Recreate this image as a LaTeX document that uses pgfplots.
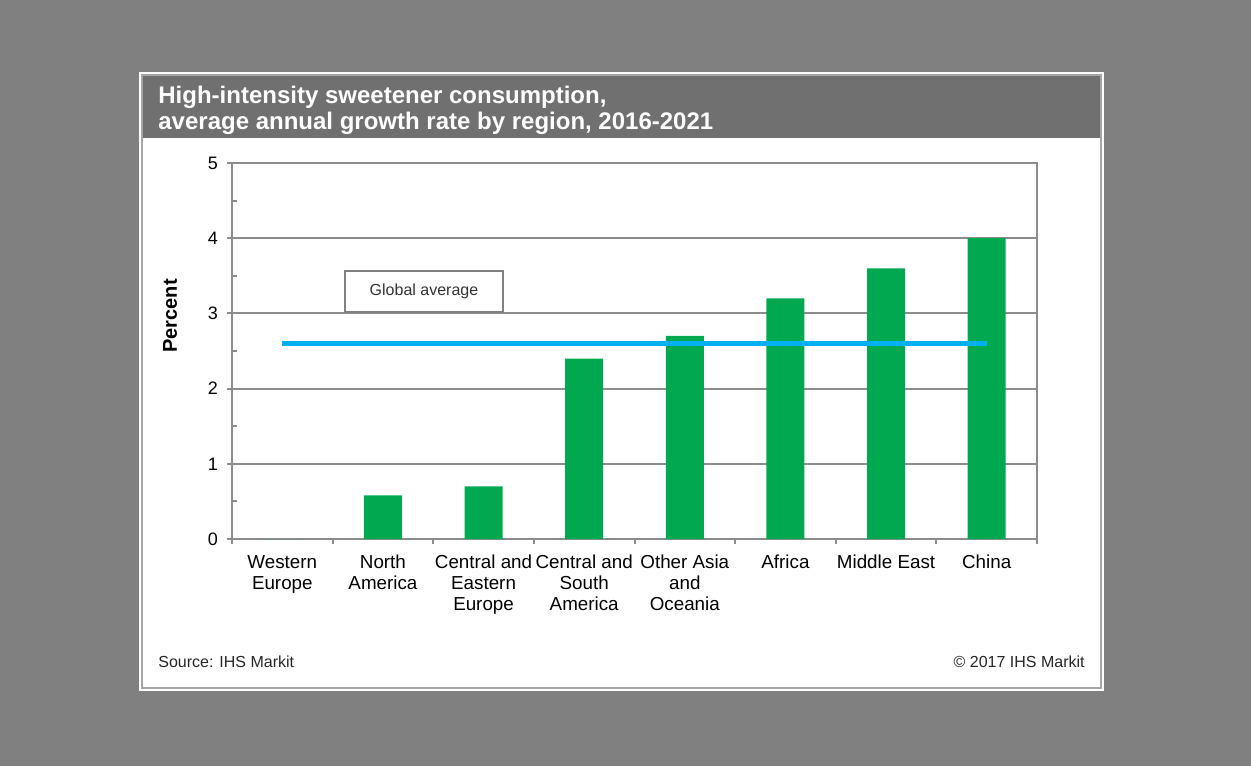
\documentclass[border=0pt]{standalone}
\usepackage{fontspec}
\setmainfont{Liberation Sans}
\usepackage{pgfplots}
\pgfplotsset{compat=1.18}
\definecolor{bggray}{RGB}{128,128,128}
\definecolor{titlegray}{RGB}{112,112,112}
\definecolor{bargreen}{RGB}{0,168,80}
\definecolor{avgblue}{RGB}{0,176,240}
\definecolor{gridgray}{RGB}{140,140,140}

\begin{document}
\begin{tikzpicture}
% page in pixel units: 1px = 0.5pt, y downwards
\begin{scope}[x=0.5pt,y=-0.5pt]
\fill[bggray] (0,0) rectangle (1251,766);
\fill[white] (139,72) rectangle (1104,691);
\draw[gray!70, line width=0.6pt] (142,75) rectangle (1101,688);
\fill[titlegray] (143,76) rectangle (1100,138);
\node[anchor=base west, inner sep=0, text=white, font=\fontsize{12}{14}\selectfont\bfseries]
  at (158,103) {High-intensity sweetener consumption,};
\node[anchor=base west, inner sep=0, text=white, font=\fontsize{12}{14}\selectfont\bfseries]
  at (158,129) {average annual growth rate by region, 2016-2021};
\node[anchor=base west, inner sep=0, text=black!85, font=\fontsize{8}{9}\selectfont]
  at (158,667) {Source: IHS Markit};
\node[anchor=base east, inner sep=0, text=black!85, font=\fontsize{8}{9}\selectfont]
  at (1085,667) {\textcopyright{} 2017 IHS Markit};
\node[rotate=90, inner sep=0, font=\fontsize{10}{12}\selectfont\bfseries]
  at (170,316) {Percent};
\end{scope}

\begin{axis}[
    at={(116pt,-269.5pt)}, anchor=south west,
    scale only axis, width=402.5pt, height=188pt,
    xmin=-0.5, xmax=7.5, ymin=0, ymax=5,
    ytick={0,1,2,3,4,5},
    minor y tick num=1,
    xtick={0,...,7},
    minor xtick={-0.5,0.5,...,7.5},
    xticklabels={{Western\\Europe},{North\\America},{Central and\\Eastern\\Europe},
      {Central and\\South\\America},{Other Asia\\and\\Oceania},{Africa},{Middle East},{China}},
    xtick pos=bottom, ytick pos=left,
    tick align=outside,
    major tick length=2.5pt, minor tick length=2.5pt,
    major x tick style={draw=none},
    minor y tick style={xshift=2.5pt},
    every tick/.style={gridgray, line width=1pt},
    axis line style={gridgray, line width=1pt},
    ymajorgrids,
    major grid style={gridgray, line width=1pt},
    /pgf/number format/assume math mode=true,
    yticklabel style={font=\fontsize{9}{10}\selectfont, xshift=-1pt},
    x tick label style={font=\fontsize{9.4}{10.5}\selectfont, align=center, yshift=-2pt},
    ybar, bar width=19pt, bar shift=0pt,
  ]
\addplot[fill=bargreen, draw=none] coordinates {
  (0,0) (1,0.58) (2,0.7) (3,2.4) (4,2.7) (5,3.2) (6,3.6) (7,4.0)};
\addplot[avgblue, line width=2.5pt, sharp plot] coordinates {(0,2.6) (7,2.6)};
\end{axis}

\begin{scope}[x=0.5pt,y=-0.5pt]
\node[draw=gray, line width=0.8pt, fill=white, minimum width=79pt, minimum height=20.5pt,
  inner sep=0, text=black!80, font=\fontsize{8}{9}\selectfont] at (424,291.5) {Global average};
\end{scope}
\end{tikzpicture}
\end{document}
